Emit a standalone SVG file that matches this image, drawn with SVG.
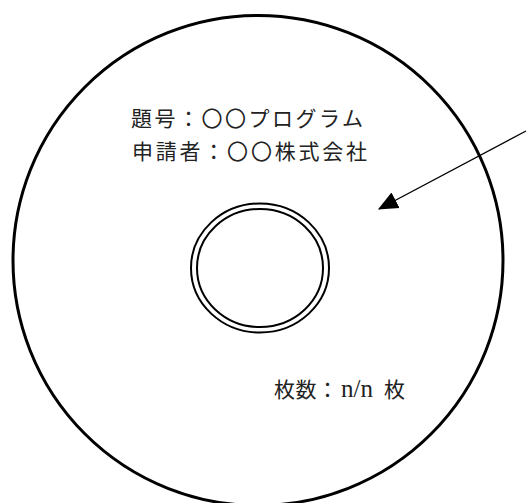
<svg xmlns="http://www.w3.org/2000/svg" width="527" height="503" viewBox="0 0 527 503">
<style>
.disc{fill:none;stroke:#000;stroke-width:3}
.ring{fill:none;stroke:#000;stroke-width:2}
.lbl{font-family:"Noto Sans CJK JP","Noto Sans CJK SC",sans-serif;font-size:21px;fill:#222}
.lat{font-family:"Liberation Serif",serif;font-size:25px}
.conn{fill:none;stroke:#000;stroke-width:1.4}
</style>
<defs>
<marker id="arr" markerUnits="userSpaceOnUse" markerWidth="20" markerHeight="20" viewBox="0 0 16 14" refX="15" refY="7" orient="auto">
<path d="M0,0 L16,7 L0,14 Z" fill="#000"/>
</marker>
</defs>
<rect width="527" height="503" fill="#fff"/>
<g id="disc">
<circle class="disc" cx="258" cy="260.5" r="245"/>
</g>
<g id="hole">
<ellipse class="ring" cx="260" cy="268" rx="69" ry="64.5"/>
<ellipse class="ring" cx="260" cy="268" rx="63" ry="59"/>
</g>
<g id="title">
<text class="lbl" x="131" y="126" textLength="232" lengthAdjust="spacing">題号：〇〇プログラム</text>
</g>
<g id="applicant">
<text class="lbl" x="132" y="159" textLength="235" lengthAdjust="spacing">申請者：〇〇株式会社</text>
</g>
<g id="count">
<text class="lbl" x="274" y="397"><tspan textLength="64" lengthAdjust="spacing">枚数：</tspan><tspan class="lat" x="341">n/n </tspan><tspan x="384">枚</tspan></text>
</g>
<g id="connectors">
<line class="conn" x1="526" y1="131" x2="379" y2="209" marker-end="url(#arr)"/>
</g>
</svg>
